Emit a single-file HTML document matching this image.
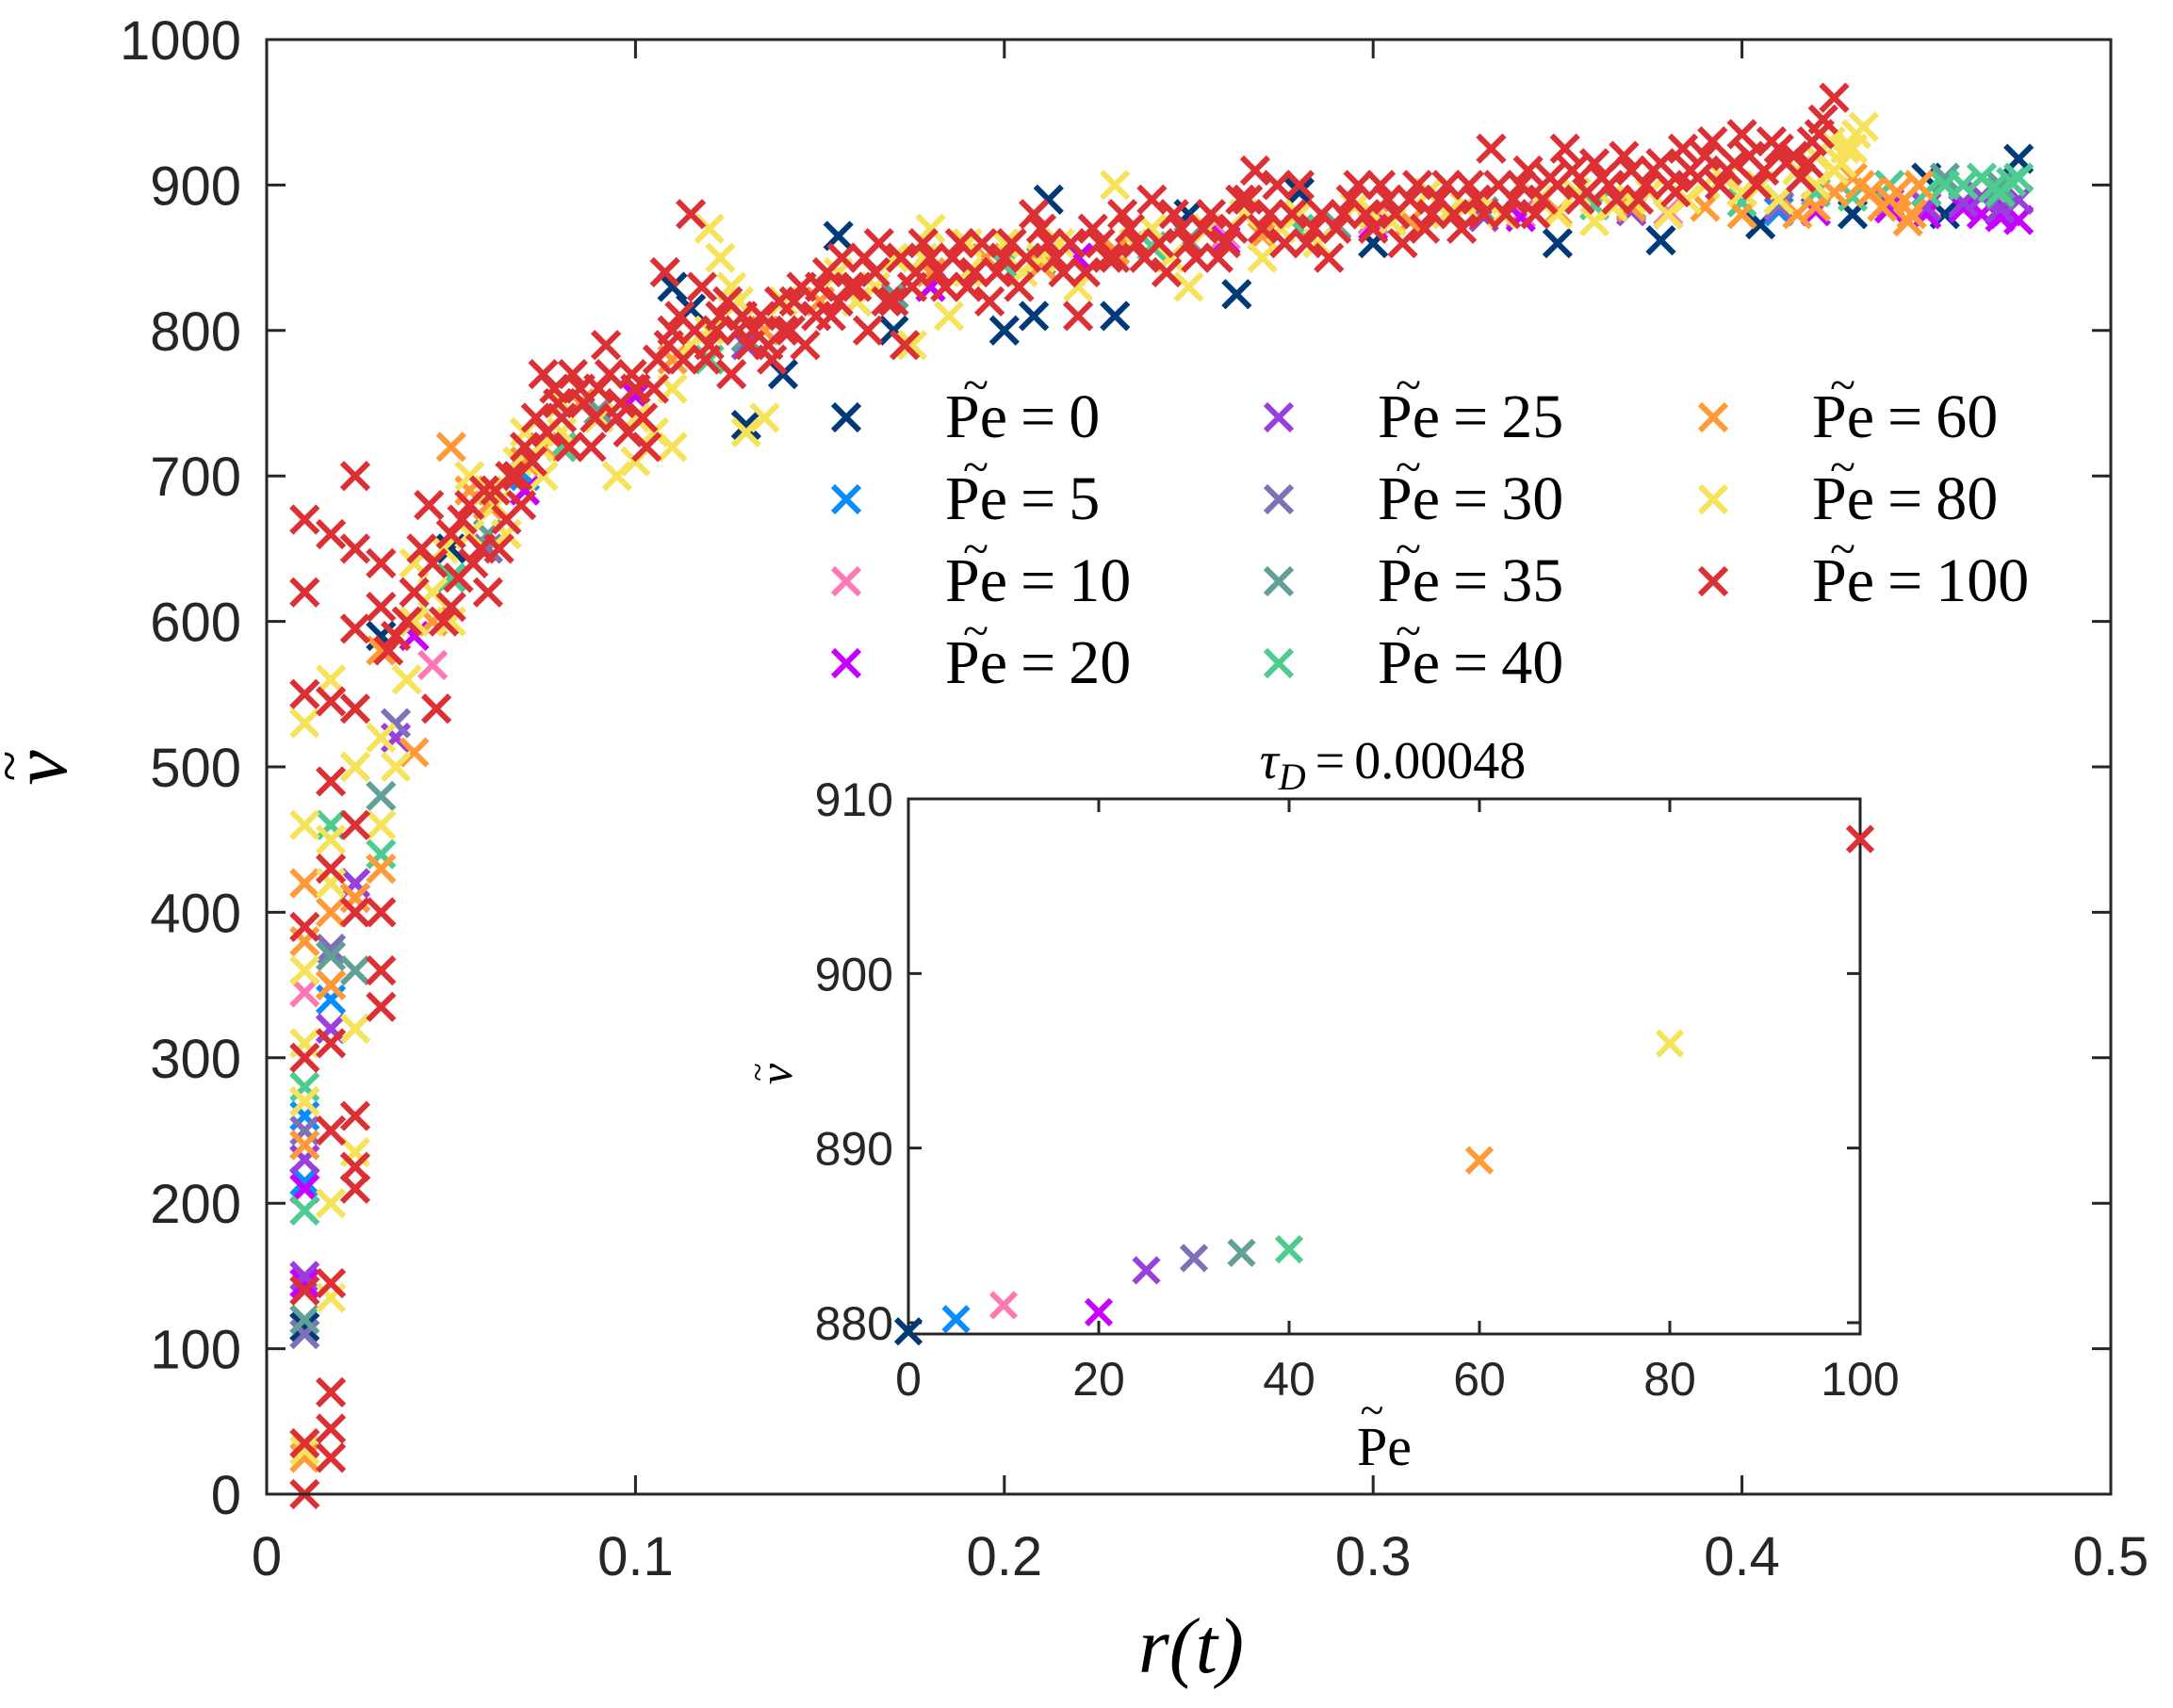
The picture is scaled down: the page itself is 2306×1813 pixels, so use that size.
<!DOCTYPE html>
<html><head><meta charset="utf-8"><style>
html,body{margin:0;padding:0;background:#fff;}
svg{display:block;}
.tk{font-family:"Liberation Sans",sans-serif;fill:#262626;}
.sf{font-family:"Liberation Serif",serif;fill:#000;}
</style></head><body>
<svg id="chart" width="2306" height="1813" viewBox="0 0 2306 1813" xmlns="http://www.w3.org/2000/svg">
<g id="main-marks"></g>
<g id="main-axes"></g>
<g id="legend"></g>
<g id="inset"></g>
</svg>
<script>
const seriesNames=["Pe0","Pe5","Pe10","Pe20","Pe25","Pe30","Pe35","Pe40","Pe60","Pe80","Pe100"];
const peLabels=["0","5","10","20","25","30","35","40","60","80","100"];
const colors=["#003a78","#0a8cff","#ff78b4","#c800ff","#9b3fdc","#7f70b8","#60a096","#4ecb8e","#ff9a36","#f7e35a","#dc3035"];
const xTicks=[0,0.1,0.2,0.3,0.4,0.5];
const xTickLabels=["0","0.1","0.2","0.3","0.4","0.5"];
const yTicks=[0,100,200,300,400,500,600,700,800,900,1000];
const insetX=[0,5,10,20,25,30,35,40,60,80,100];
const insetY=[879.5,880.2,881.0,880.6,883.0,883.7,884.0,884.2,889.3,896.0,907.7];
const insetXTicks=[0,20,40,60,80,100];
const insetYTicks=[880,890,900,910];
const r0=[0.0103,0.0103,0.0174,0.031,0.05,0.08,0.11,0.115,0.13,0.14,0.155,0.17,0.2,0.208,0.212,0.23,0.25,0.263,0.28,0.3,0.35,0.378,0.405,0.43,0.45,0.455,0.47,0.475];
const v0=[115,230,350,590,650,720,830,815,735,770,865,800,800,810,890,810,880,825,895,860,860,862,873,880,905,880,895,918];
const r5=[0.0103,0.0103,0.0174,0.024,0.04,0.07,0.1,0.14,0.18,0.22,0.26,0.3,0.34,0.38,0.41,0.44,0.46,0.47];
const v5=[215,260,340,420,600,700,760,800,830,850,865,875,880,880,882,884,886,882];
const r10=[0.0103,0.0103,0.0174,0.024,0.045,0.07,0.1,0.14,0.18,0.22,0.26,0.3,0.34,0.38,0.42,0.45,0.47];
const v10=[240,345,350,410,570,690,760,800,830,850,865,875,880,882,885,886,884];
const r20=[0.0103,0.0103,0.0174,0.024,0.04,0.07,0.1,0.14,0.18,0.22,0.26,0.3,0.34,0.38,0.42,0.44,0.45,0.46,0.465,0.47,0.472,0.475];
const v20=[210,145,320,410,590,690,755,800,830,850,862,872,878,880,882,884,880,884,880,878,882,876];
const r25=[0.0103,0.0103,0.0174,0.024,0.035,0.06,0.09,0.13,0.17,0.21,0.25,0.29,0.33,0.37,0.41,0.44,0.45,0.46,0.465,0.47,0.475];
const v25=[150,230,320,420,520,650,740,790,825,845,860,870,878,882,885,888,885,888,892,884,890];
const r30=[0.0103,0.0103,0.0174,0.024,0.035,0.06,0.09,0.13,0.17,0.21,0.25,0.29,0.33,0.37,0.41,0.44,0.47];
const v30=[110,250,375,400,530,650,740,795,825,845,860,872,880,884,886,890,893];
const r35=[0.0103,0.0103,0.0174,0.024,0.031,0.06,0.09,0.13,0.17,0.21,0.25,0.29,0.33,0.37,0.41,0.44,0.455,0.47];
const v35=[120,270,370,360,480,660,745,795,825,848,862,873,882,886,890,900,905,900];
const r40=[0.0103,0.0103,0.0174,0.024,0.031,0.05,0.08,0.12,0.16,0.2,0.24,0.28,0.32,0.36,0.4,0.41,0.42,0.43,0.435,0.44,0.45,0.455,0.46,0.465,0.468,0.47,0.473,0.475];
const v40=[195,280,460,320,440,630,720,780,820,845,858,870,880,886,888,890,895,892,895,900,895,900,900,905,898,895,902,905];
const r60=[0.0103,0.0103,0.0103,0.0103,0.0174,0.0174,0.0174,0.024,0.024,0.031,0.031,0.04,0.045,0.05,0.06,0.07,0.085,0.1,0.12,0.15,0.18,0.21,0.25,0.29,0.33,0.37,0.4,0.41,0.42,0.43,0.435,0.44,0.445,0.448,
0.055,0.065,0.075,0.095,0.11,0.135,0.165,0.195,0.23,0.27,0.31,0.35,0.39,0.415,0.425,0.432,0.438,0.442,0.446];
const v60=[25,240,380,420,400,420,350,410,500,430,580,510,600,720,680,710,750,760,790,820,840,845,860,870,880,885,880,890,885,905,895,890,875,900,
690,660,720,740,780,800,830,850,855,865,875,882,885,880,895,900,885,895,880];
const r80=[0.0103,0.0103,0.0103,0.0103,0.0103,0.0103,0.0174,0.0174,0.0174,0.0174,0.0174,0.024,0.024,0.024,0.031,0.031,0.035,0.038,0.04,0.045,0.05,0.055,0.06,0.065,0.07,0.075,0.08,0.085,0.09,0.095,0.1,0.105,0.11,0.115,0.12,0.123,0.126,0.13,0.135,0.14,0.15,0.16,0.17,0.175,0.18,0.185,0.19,0.2,0.21,0.22,0.23,0.24,0.25,0.26,0.27,0.28,0.29,0.3,0.31,0.32,0.33,0.34,0.35,0.36,0.37,0.38,0.39,0.4,0.41,0.42,0.425,0.428,0.431,0.433,
0.04,0.048,0.055,0.062,0.068,0.074,0.08,0.09,0.1,0.11,0.12,0.128,0.14,0.155,0.165,0.178,0.19,0.205,0.215,0.235,0.245,0.255,0.265,0.275,0.285,0.295,0.305,0.315,0.325,0.335,0.345,0.355,0.365,0.375,0.385,0.395,0.405,0.415,0.42,0.424,0.427,0.43];
const v80=[30,270,310,360,460,530,200,135,420,450,560,500,320,235,460,520,500,560,640,620,600,700,690,660,730,700,750,760,740,700,710,730,720,790,870,850,830,730,740,800,830,820,850,790,870,810,840,860,850,830,900,870,830,860,850,880,870,880,890,880,890,900,880,875,890,880,900,895,890,900,910,925,935,940,
600,650,660,680,710,720,730,760,740,760,800,820,820,840,830,850,860,840,860,860,850,870,880,870,860,885,875,895,885,880,890,895,885,895,890,905,900,910,920,930,915,925];
const r100=[0.0103,0.0103,0.0103,0.0103,0.0103,0.0103,0.0103,0.0103,0.0174,0.0174,0.0174,0.0174,0.0174,0.0174,0.0174,0.0174,0.0174,0.0174,0.024,0.024,0.024,0.024,0.024,0.024,0.024,0.024,0.024,0.031,0.031,0.031,0.031,0.031,0.033,0.035,0.038,0.04,0.042,0.044,0.046,0.048,0.05,0.052,0.055,0.058,0.06,0.062,0.065,0.068,0.07,0.073,0.075,0.078,0.08,0.083,0.086,0.088,0.09,0.092,0.095,0.098,0.1,0.103,0.106,0.108,0.11,0.113,0.115,0.118,0.12,0.123,0.126,0.128,0.131,0.134,0.137,0.14,0.143,0.146,0.15,0.153,0.156,0.16,0.163,0.166,0.17,0.173,0.176,0.18,0.184,0.188,0.192,0.196,0.2,0.204,0.208,0.212,0.216,0.22,0.224,0.228,0.232,0.236,0.24,0.244,0.248,0.252,0.256,0.26,0.264,0.268,0.272,0.276,0.28,0.284,0.288,0.292,0.296,0.3,0.304,0.308,0.312,0.316,0.32,0.324,0.328,0.332,0.336,0.34,0.344,0.348,0.352,0.356,0.36,0.364,0.368,0.372,0.376,0.38,0.384,0.388,0.392,0.396,0.4,0.404,0.408,0.412,0.416,0.419,0.422,0.425,
0.045,0.05,0.053,0.056,0.059,0.063,0.066,0.069,0.072,0.076,0.079,0.082,0.085,0.089,0.093,0.096,0.099,0.102,0.105,0.109,0.112,0.116,0.119,0.122,0.125,0.129,0.132,0.136,0.139,0.142,0.145,0.149,0.152,0.155,0.158,0.162,0.165,0.168,0.172,0.175,0.178,0.182,0.186,0.19,0.194,0.198,0.202,0.206,0.21,0.214,0.218,0.222,0.226,0.23,0.234,0.238,0.242,0.246,0.25,0.254,0.258,0.262,0.266,0.27,0.274,0.278,0.282,0.286,0.29,0.294,0.298,0.302,0.306,0.31,0.314,0.318,0.322,0.326,0.33,0.334,0.338,0.342,0.346,0.35,0.354,0.358,0.362,0.366,0.37,0.374,0.378,0.382,0.386,0.39,0.394,0.398,0.402,0.406,0.41,0.414,0.418,0.421];
const v100=[0,35,140,300,390,620,670,550,25,45,70,145,250,310,430,490,545,660,595,540,460,400,700,650,210,260,225,400,360,335,640,610,580,590,600,620,650,680,540,600,660,630,680,650,620,690,670,700,720,740,770,760,740,770,750,720,760,790,740,730,760,720,780,840,800,780,880,830,790,810,770,800,790,810,780,800,820,790,830,810,850,830,800,860,820,790,840,850,830,860,840,820,850,830,880,860,840,810,870,850,880,860,890,840,870,850,880,860,890,910,880,860,900,870,850,880,900,870,890,860,900,880,900,870,890,925,880,900,880,905,925,890,915,900,920,890,910,900,925,905,930,910,935,900,930,915,905,930,945,960,
640,610,670,640,690,650,700,680,710,730,750,720,760,740,770,750,770,740,760,790,810,800,780,800,820,810,800,790,820,800,830,810,840,820,830,850,840,820,850,830,860,840,850,830,860,840,860,850,870,850,860,840,860,850,870,850,860,880,860,870,850,870,890,870,900,880,860,880,870,890,880,900,880,890,870,890,880,900,880,900,890,910,890,900,910,895,905,890,910,900,915,895,910,920,900,915,920,910,925,920,915,935];
const seriesR=[r0,r5,r10,r20,r25,r30,r35,r40,r60,r80,r100];
const seriesV=[v0,v5,v10,v20,v25,v30,v35,v40,v60,v80,v100];

const NS="http://www.w3.org/2000/svg";
function mk(tag,attrs,parent){const e=document.createElementNS(NS,tag);for(const k in attrs)e.setAttribute(k,attrs[k]);parent.appendChild(e);return e;}
const L=283,R=2240,T=42,B=1586;
function xs(r){return L+(r-0)/(0.5-0)*(R-L);}
function ys(v){return B-(v-0)/(1000-0)*(B-T);}
function cross(g,x,y,h,col,w){
  return mk('path',{d:`M${x-h},${y-h}L${x+h},${y+h}M${x-h},${y+h}L${x+h},${y-h}`,stroke:col,'stroke-width':w,fill:'none'},g);
}
const mm=document.getElementById('main-marks');
seriesR.forEach((rs,si)=>{
  const g=mk('g',{},mm);
  
  
  rs.forEach((r,i)=>{
    const p=cross(g,xs(r),ys(seriesV[si][i]),14,colors[si],6);
    
    
  });
});
const ax=document.getElementById('main-axes');
const frame=mk('rect',{x:L,y:T,width:R-L,height:B-T,fill:'none',stroke:'#262626','stroke-width':3},ax);


xTicks.forEach((t,i)=>{
  const x=xs(t);
  mk('path',{d:`M${x},${B}v-20M${x},${T}v20`,stroke:'#262626','stroke-width':3},ax);
  const tx=mk('text',{x:x,y:1672,'font-size':58,'text-anchor':'middle',class:'tk'},ax);
  tx.textContent=xTickLabels[i];
  
  
});
yTicks.forEach(t=>{
  const y=ys(t);
  mk('path',{d:`M${L},${y}h20M${R},${y}h-20`,stroke:'#262626','stroke-width':3},ax);
  const tx=mk('text',{x:256,y:y+21,'font-size':58,'text-anchor':'end',class:'tk'},ax);
  tx.textContent=String(t);
  
  
});
const xt=mk('text',{x:1264,y:1775,'font-size':84,'text-anchor':'middle',class:'sf','font-style':'italic'},ax);
xt.textContent='r(t)';


const ytg=mk('g',{transform:'translate(70,815) rotate(-90)'},ax);


mk('text',{x:0,y:0,'font-size':84,'text-anchor':'middle',class:'sf','font-style':'italic'},ytg).textContent='v';
mk('text',{x:2,y:-40,'font-size':60,'text-anchor':'middle',class:'sf'},ytg).textContent='~';

const lg=document.getElementById('legend');
const colX=[898,1357,1818];
seriesNames.forEach((n,i)=>{
  const c=Math.floor(i/4),r=i%4;
  const mx=colX[c],my=443+87*r;
  const g=mk('g',{},lg);
  
  
  cross(g,mx,my,14,colors[i],6);
  const t=mk('text',{x:mx+105,y:my+21,'font-size':66,class:'sf'},g);
  t.innerHTML='Pe<tspan dx="14">=</tspan><tspan dx="14">'+peLabels[i]+'</tspan>';
  mk('text',{x:mx+124,y:my-18,'font-size':50,class:'sf'},g).textContent='~';
});

const ins=document.getElementById('inset');
const IL=964,IR=1974,IT=848,IB=1416;
function ixs(p){return IL+(p-0)/(100-0)*(IR-IL);}
function iys(v){return IB-(v-879.35)/(910-879.35)*(IB-IT);}
const bg=mk('rect',{x:IL,y:IT,width:IR-IL,height:IB-IT,fill:'#fff',stroke:'#262626','stroke-width':3},ins);


insetXTicks.forEach(t=>{
  const x=ixs(t);
  mk('path',{d:`M${x},${IB}v-14M${x},${IT}v14`,stroke:'#262626','stroke-width':3},ins);
  const tx=mk('text',{x:x,y:1481,'font-size':50,'text-anchor':'middle',class:'tk'},ins);
  tx.textContent=String(t);
  
  
});
insetYTicks.forEach(t=>{
  const y=iys(t);
  mk('path',{d:`M${IL},${y}h14M${IR},${y}h-14`,stroke:'#262626','stroke-width':3},ins);
  const tx=mk('text',{x:948,y:y+18,'font-size':50,'text-anchor':'end',class:'tk'},ins);
  tx.textContent=String(t);
  
  
});
insetX.forEach((p,i)=>{
  const c=cross(ins,ixs(p),iys(insetY[i]),13,colors[i],6);
  
  
});
const it=mk('text',{x:1478,y:826,'font-size':56,'text-anchor':'middle',class:'sf'},ins);


it.innerHTML='<tspan font-style="italic">τ</tspan><tspan font-style="italic" font-size="40" dy="12">D</tspan><tspan dy="-12" dx="10">=</tspan><tspan dx="10">0.00048</tspan>';
const ixl=mk('text',{x:1469,y:1555,'font-size':58,'text-anchor':'middle',class:'sf'},ins);
ixl.textContent='Pe';


mk('text',{x:1456,y:1512,'font-size':46,'text-anchor':'middle',class:'sf'},ins).textContent='~';
const iyg=mk('g',{transform:'translate(840,1140) rotate(-90)'},ins);


mk('text',{x:0,y:0,'font-size':50,'text-anchor':'middle',class:'sf','font-style':'italic'},iyg).textContent='v';
mk('text',{x:2,y:-24,'font-size':36,'text-anchor':'middle',class:'sf'},iyg).textContent='~';
</script>
</body></html>
